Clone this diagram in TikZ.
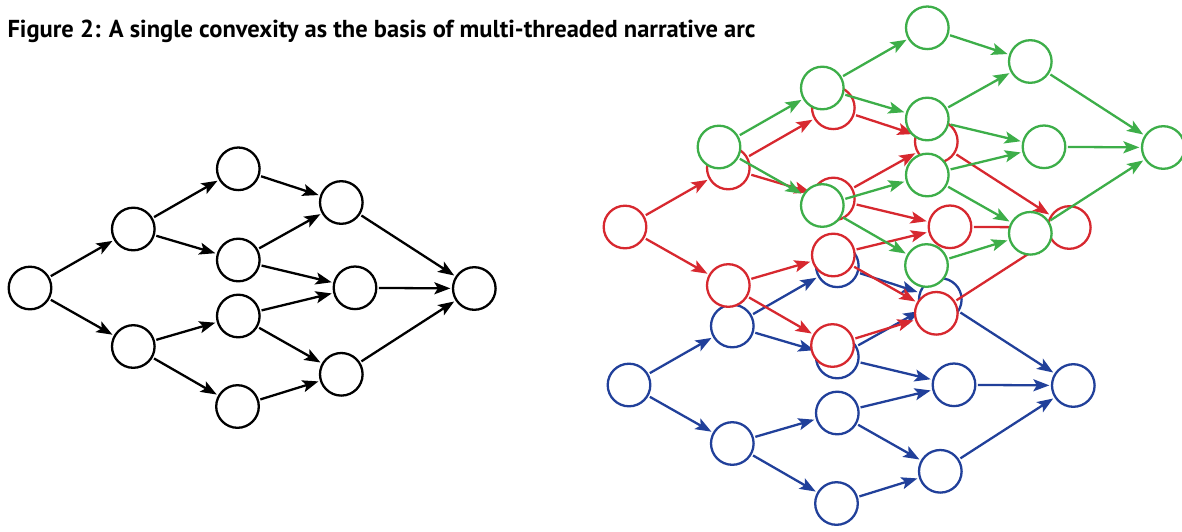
\documentclass[tikz,border=0pt]{standalone}
\usepackage{fontspec}
\setmainfont{PT Sans}
\usetikzlibrary{arrows.meta}
\definecolor{nred}{HTML}{D7282F}
\definecolor{nblue}{HTML}{21409A}
\definecolor{ngreen}{HTML}{3DAE49}
\tikzset{
  gnode/.style={circle, minimum size=42.6pt, inner sep=0pt, line width=2.3pt, fill=white},
  garrow/.style={line width=2.3pt, -{Stealth[length=16pt,width=12pt,inset=3.5pt]}, shorten >=1.5pt, shorten <=1.5pt}
}
\newcommand{\arcgraph}[4]{%
  \begin{scope}[shift={(#3,#4)}]
    \node[gnode,draw=#2] (#1A) at (30,288) {};
    \node[gnode,draw=#2] (#1B) at (133.3,229) {};
    \node[gnode,draw=#2] (#1C) at (133.3,346.5) {};
    \node[gnode,draw=#2] (#1D) at (238.3,168.8) {};
    \node[gnode,draw=#2] (#1E) at (238.3,260) {};
    \node[gnode,draw=#2] (#1F) at (238.3,316) {};
    \node[gnode,draw=#2] (#1G) at (237.5,406.5) {};
    \node[gnode,draw=#2] (#1H) at (341.3,202.5) {};
    \node[gnode,draw=#2] (#1I) at (355,287.8) {};
    \node[gnode,draw=#2] (#1J) at (341.3,374.3) {};
    \node[gnode,draw=#2] (#1K) at (474.3,288.5) {};
  \end{scope}
  \foreach \s/\t in {A/B,A/C,B/D,B/E,C/F,C/G,D/H,E/H,E/I,F/I,F/J,G/J,H/K,I/K,J/K}
    \draw[garrow,#2] (#1\s) -- (#1\t);
}
\begin{document}
\begin{tikzpicture}[x=1pt,y=-1pt]
  \useasboundingbox (0,0) rectangle (1182,531);
  \node[anchor=base west, inner sep=0pt] (title) at (7.3,37.3)
    {\resizebox{748pt}{!}{\bfseries Figure 2: A single convexity as the basis of multi-threaded narrative arc}};
  \arcgraph{k}{black}{0}{0}
  \arcgraph{b}{nblue}{599}{97}
  \arcgraph{r}{nred}{595}{-61}
  \arcgraph{g}{ngreen}{689}{-141}
\end{tikzpicture}
\end{document}
